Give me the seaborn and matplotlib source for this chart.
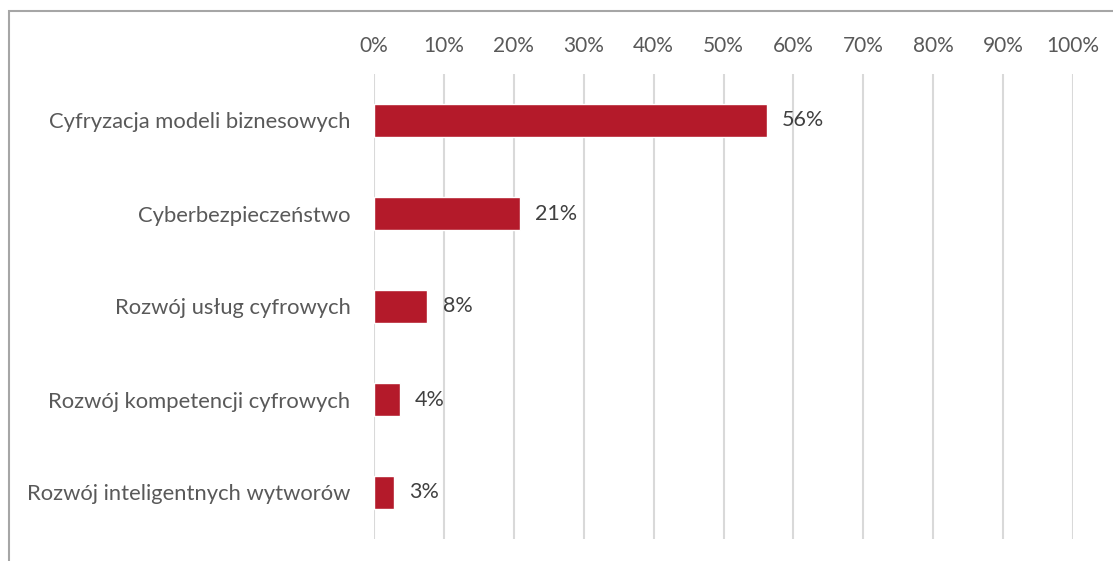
import matplotlib
matplotlib.use("Agg")
import matplotlib.pyplot as plt
import seaborn as sns
import pandas as pd
from matplotlib.patches import Rectangle
from matplotlib.ticker import FuncFormatter

categories = [
    "Cyfryzacja modeli biznesowych",
    "Cyberbezpieczeństwo",
    "Rozwój usług cyfrowych",
    "Rozwój kompetencji cyfrowych",
    "Rozwój inteligentnych wytworów",
]
values = [0.562, 0.209, 0.076, 0.037, 0.028]
x_ticks = [i / 10 for i in range(11)]

df = pd.DataFrame({"category": categories, "value": values})

sns.set_theme(style="white")
plt.rcParams["font.family"] = ["Lato", "DejaVu Sans"]

fig = plt.figure(figsize=(11.13, 5.61), dpi=100)
ax = fig.add_axes([374 / 1113, 1 - 539 / 561, (1073 - 374) / 1113, (539 - 74) / 561])

sns.barplot(data=df, x="value", y="category", orient="h", color="#B41A2A",
            width=0.355, saturation=1, ax=ax, zorder=3)

ax.set_xlim(0, 1)
ax.set_ylim(4.5, -0.5)
ax.set_xticks(x_ticks)
ax.xaxis.set_major_formatter(FuncFormatter(lambda v, p: f"{round(v * 100)}%"))
ax.xaxis.tick_top()
ax.tick_params(axis="x", length=0, pad=13, labelsize=15, labelcolor="#595959")
ax.tick_params(axis="y", length=0, pad=17, labelsize=15.8, labelcolor="#595959")
ax.set_xlabel("")
ax.set_ylabel("")
ax.grid(axis="x", color="#d9d9d9", linewidth=1.5, zorder=0)
for s in ax.spines.values():
    s.set_visible(False)

for i, v in enumerate(values):
    ax.text(v + 0.022, i, f"{round(v * 100)}%", va="center", ha="left",
            fontsize=15.5, color="#404040")

fig.patches.append(Rectangle((9 / 1113, -0.1), 1.2, 1 - 11 / 561 + 0.1,
                             transform=fig.transFigure, fill=False,
                             edgecolor="#a6a6a6", linewidth=1.5, zorder=0))

fig.savefig("out.png", dpi=100)
